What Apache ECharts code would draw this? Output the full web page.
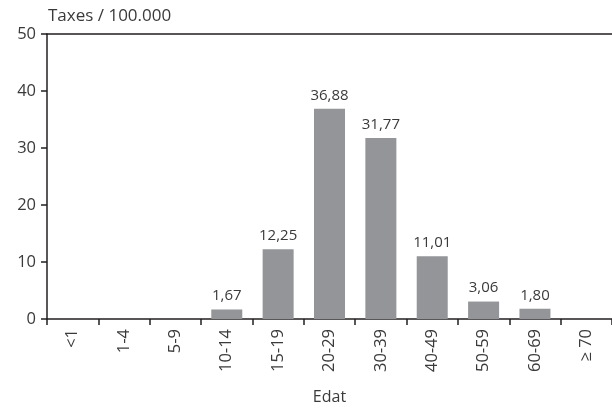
<!DOCTYPE html>
<html>
<head>
<meta charset="utf-8">
<script src="https://cdn.jsdelivr.net/npm/echarts@6/dist/echarts.min.js"></script>
<style>html,body{margin:0;padding:0;background:#fff}#c{width:612px;height:410px}</style>
</head>
<body>
<div id="c"></div>
<script>
const categories = ['<1', '1-4', '5-9', '10-14', '15-19', '20-29', '30-39', '40-49', '50-59', '60-69', '≥ 70'];
const values = [0, 0, 0, 1.67, 12.25, 36.88, 31.77, 11.01, 3.06, 1.80, 0];
const yTicks = [0, 10, 20, 30, 40, 50];
const yTitle = 'Taxes / 100.000';
const xTitle = 'Edat';

const FONT = '"Open Sans", sans-serif';
const TXT = '#3a3a3a';
const AX = '#231f20';

const chart = echarts.init(document.getElementById('c'), null, {renderer: 'canvas'});
chart.setOption({
  animation: false,
  title: {
    text: yTitle, left: 43, top: 3,
    textStyle: {fontFamily: FONT, fontSize: 17, fontWeight: 'normal', color: TXT}
  },
  grid: {left: 47, top: 34, right: 0, bottom: 90, containLabel: false},
  xAxis: [{
    type: 'category', data: categories, position: 'bottom',
    name: xTitle, nameLocation: 'middle', nameGap: 70,
    nameTextStyle: {fontFamily: FONT, fontSize: 16, color: TXT},
    axisLine: {lineStyle: {color: AX, width: 1.5}},
    axisTick: {show: true, length: 6, inside: false, lineStyle: {color: AX, width: 1.5}},
    axisLabel: {rotate: 90, margin: 10, fontFamily: FONT, fontSize: 16.5, color: TXT, interval: 0}
  }, {
    type: 'category', data: categories, position: 'top',
    axisLine: {show: true, lineStyle: {color: AX, width: 1.5}},
    axisTick: {show: false}, axisLabel: {show: false}
  }],
  yAxis: {
    type: 'value', min: yTicks[0], max: yTicks[yTicks.length - 1], interval: 10,
    axisLine: {show: true, lineStyle: {color: AX, width: 1.5}},
    axisTick: {show: true, length: 6, lineStyle: {color: AX, width: 1.5}},
    splitLine: {show: false},
    axisLabel: {margin: 11, fontFamily: FONT, fontSize: 16.5, color: TXT}
  },
  series: [{
    type: 'bar', data: values, barWidth: 31, xAxisIndex: 0,
    itemStyle: {color: '#939598'},
    label: {
      show: true, position: 'top', distance: 6,
      fontFamily: FONT, fontSize: 15, color: TXT,
      formatter: p => p.value > 0 ? p.value.toFixed(2).replace('.', ',') : ''
    }
  }]
});
</script>
</body>
</html>
